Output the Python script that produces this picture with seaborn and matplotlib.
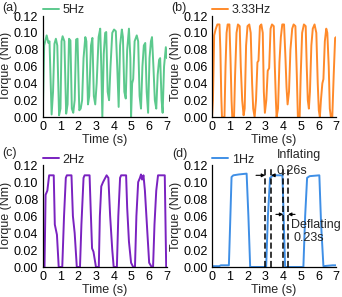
import numpy as np
import pandas as pd
import matplotlib
matplotlib.use("Agg")
import matplotlib.pyplot as plt
import seaborn as sns

# ---------------- data ----------------
t_5hz = [0.00, 0.08, 0.22, 0.32, 0.38, 0.50, 0.58, 0.66, 0.74, 0.82, 0.92, 1.00, 1.06, 1.12, 1.22,
         1.32, 1.40, 1.48, 1.56, 1.64, 1.72, 1.80, 1.88, 1.96, 2.06, 2.14, 2.22, 2.30, 2.40, 2.46,
         2.55, 2.62, 2.72, 2.80, 2.88, 2.96, 3.04, 3.15, 3.24, 3.30, 3.36, 3.44, 3.52, 3.58, 3.66,
         3.74, 3.82, 3.92, 4.02, 4.12, 4.20, 4.28, 4.36, 4.46, 4.52, 4.60, 4.68, 4.76, 4.86, 4.94,
         4.98, 5.04, 5.10, 5.18, 5.30, 5.38, 5.46, 5.54, 5.62, 5.70, 5.78, 5.86, 5.94, 6.02, 6.10,
         6.16, 6.24, 6.32, 6.40, 6.48, 6.56, 6.62, 6.70, 6.76, 6.84, 6.94, 7.00]
v_5hz = [0.002, 0.085, 0.097, 0.088, 0.090, 0.003, 0.030, 0.087, 0.093, 0.085, 0.002, 0.010, 0.090, 0.096, 0.090,
         0.004, 0.015, 0.093, 0.091, 0.010, 0.005, 0.020, 0.092, 0.093, 0.008, 0.010, 0.020, 0.070, 0.095, 0.090,
         0.015, 0.025, 0.085, 0.094, 0.025, 0.015, 0.040, 0.095, 0.105, 0.060, 0.000, 0.075, 0.100, 0.101, 0.030,
         0.020, 0.060, 0.100, 0.104, 0.102, 0.060, 0.012, 0.085, 0.104, 0.095, 0.030, 0.022, 0.080, 0.105, 0.070,
         0.000, 0.040, 0.045, 0.090, 0.097, 0.090, 0.025, 0.010, 0.060, 0.085, 0.088, 0.030, 0.005, 0.070, 0.090,
         0.095, 0.060, 0.020, 0.010, 0.050, 0.068, 0.070, 0.020, 0.005, 0.060, 0.083, 0.070]

t_333hz = [0.00, 0.05, 0.12, 0.20, 0.30, 0.42, 0.47, 0.52, 0.56, 0.70, 0.76, 0.82, 0.88, 0.98, 1.04,
           1.10, 1.14, 1.24, 1.30, 1.38, 1.46, 1.56, 1.62, 1.70, 1.78, 1.84, 1.92, 2.00, 2.10, 2.18,
           2.26, 2.32, 2.40, 2.48, 2.56, 2.62, 2.70, 2.78, 2.86, 2.92, 2.98, 3.06, 3.14, 3.22, 3.30,
           3.38, 3.48, 3.54, 3.60, 3.64, 3.72, 3.80, 3.88, 3.96, 4.06, 4.14, 4.20, 4.26, 4.34, 4.42,
           4.52, 4.60, 4.70, 4.78, 4.84, 4.94, 5.00, 5.08, 5.18, 5.28, 5.34, 5.40, 5.46, 5.52, 5.60,
           5.68, 5.78, 5.88, 5.96, 6.02, 6.08, 6.14, 6.22, 6.28, 6.36, 6.44, 6.50, 6.58, 6.64, 6.70,
           6.78, 6.86, 6.94, 7.00]
v_333hz = [0.000, 0.020, 0.097, 0.104, 0.110, 0.110, 0.080, 0.025, 0.000, 0.000, 0.060, 0.100, 0.110, 0.110, 0.070,
           0.020, 0.000, 0.000, 0.050, 0.100, 0.110, 0.108, 0.060, 0.020, 0.002, 0.010, 0.085, 0.108, 0.110, 0.100,
           0.040, 0.010, 0.000, 0.020, 0.065, 0.067, 0.108, 0.110, 0.100, 0.030, 0.005, 0.020, 0.055, 0.058, 0.105,
           0.110, 0.108, 0.060, 0.020, 0.000, 0.010, 0.065, 0.095, 0.110, 0.110, 0.070, 0.035, 0.015, 0.030, 0.080,
           0.105, 0.110, 0.108, 0.050, 0.000, 0.000, 0.050, 0.100, 0.110, 0.108, 0.060, 0.020, 0.010, 0.030, 0.085,
           0.105, 0.110, 0.100, 0.040, 0.008, 0.000, 0.020, 0.040, 0.045, 0.090, 0.105, 0.100, 0.060, 0.010, 0.000,
           0.000, 0.050, 0.094, 0.095]

t_2hz = [0.00, 0.10, 0.16, 0.26, 0.36, 0.62, 0.68, 0.80, 0.90, 1.10, 1.20, 1.30, 1.36, 1.62, 1.70,
         1.80, 1.92, 2.10, 2.18, 2.30, 2.36, 2.64, 2.70, 2.78, 2.86, 3.00, 3.16, 3.22, 3.30, 3.40,
         3.60, 3.70, 3.80, 3.92, 4.00, 4.18, 4.26, 4.36, 4.42, 4.70, 4.76, 4.86, 4.98, 5.10, 5.20,
         5.28, 5.38, 5.48, 5.54, 5.60, 5.68, 5.76, 5.90, 6.00, 6.14, 6.22, 6.30, 6.40, 6.50, 6.88,
         6.96]
v_2hz = [0.000, 0.000, 0.085, 0.090, 0.108, 0.108, 0.050, 0.038, 0.000, 0.000, 0.060, 0.105, 0.108, 0.108, 0.060,
         0.040, 0.000, 0.000, 0.050, 0.105, 0.108, 0.108, 0.070, 0.022, 0.018, 0.000, 0.000, 0.060, 0.095, 0.100,
         0.108, 0.105, 0.060, 0.020, 0.000, 0.000, 0.060, 0.105, 0.108, 0.108, 0.070, 0.030, 0.005, 0.000, 0.000,
         0.060, 0.100, 0.105, 0.109, 0.103, 0.108, 0.090, 0.040, 0.005, 0.000, 0.000, 0.050, 0.090, 0.108, 0.108,
         0.000]

t_1hz = [0.00, 0.40, 0.50, 0.95, 1.02, 1.10, 1.20, 1.50, 1.95, 2.05, 2.15, 3.05, 3.15, 3.27, 3.45,
         3.97, 4.05, 4.12, 5.15, 5.25, 5.36, 5.50, 6.05, 6.15, 6.28, 6.80, 7.00]
v_1hz = [0.001, 0.001, 0.002, 0.002, 0.050, 0.106, 0.108, 0.109, 0.110, 0.060, 0.000, 0.000, 0.060, 0.105, 0.108,
         0.108, 0.050, 0.000, 0.000, 0.060, 0.105, 0.107, 0.108, 0.050, 0.001, 0.002, 0.002]

labels = ["5Hz", "3.33Hz", "2Hz", "1Hz"]
panel_tags = ["(a)", "(b)", "(c)", "(d)"]
x_ticks = [0, 1, 2, 3, 4, 5, 6, 7]
y_ticks = [0.00, 0.02, 0.04, 0.06, 0.08, 0.10, 0.12]

# annotation values for panel (d)
inflate_lines = [3.00, 3.33]
deflate_lines = [4.02, 4.28]
inflate_text = ["Inflating", "0.26s"]
deflate_text = ["Deflating", "0.23s"]

# ---------------- style ----------------
sns.set_theme(style="white")
plt.rcParams["font.family"] = ["Liberation Sans", "DejaVu Sans"]
FS = 9

colors = ["#5CC98D", "#FF8A2A", "#7A22C0", "#3F8FE6"]
series = [(t_5hz, v_5hz), (t_333hz, v_333hz), (t_2hz, v_2hz), (t_1hz, v_1hz)]

fig = plt.figure(figsize=(3.42, 2.97), dpi=100)
positions = [
    [0.125, 0.606, 0.363, 0.340],
    [0.620, 0.606, 0.363, 0.340],
    [0.125, 0.101, 0.363, 0.343],
    [0.620, 0.101, 0.363, 0.343],
]
tag_pos = [(0.008, 0.973), (0.500, 0.973), (0.008, 0.485), (0.503, 0.482)]

axes = []
for i, pos in enumerate(positions):
    ax = fig.add_axes(pos)
    t, v = series[i]
    df = pd.DataFrame({"Time (s)": t, "Torque (Nm)": v})
    sns.lineplot(data=df, x="Time (s)", y="Torque (Nm)", ax=ax, color=colors[i],
                 lw=1.4, label=labels[i], estimator=None, sort=False)
    ax.set_xlim(0, 7)
    ax.set_ylim(0, 0.12)
    ax.set_xticks(x_ticks)
    ax.set_yticks(y_ticks)
    ax.set_yticklabels([f"{y:.2f}" for y in y_ticks])
    ax.tick_params(axis="both", labelsize=FS, direction="out", length=2, width=0.8, pad=1.2,
                   colors="black")
    for s in ["top", "right"]:
        ax.spines[s].set_visible(False)
    for s in ["left", "bottom"]:
        ax.spines[s].set_color("black")
        ax.spines[s].set_linewidth(0.9)
    ax.set_xlabel("Time (s)", fontsize=FS, labelpad=0.3)
    ax.set_ylabel("Torque (Nm)", fontsize=FS)
    ax.yaxis.set_label_coords(-0.245, 0.5)
    ax.legend(loc="center left", bbox_to_anchor=(-0.01, 1.055), frameon=False, fontsize=FS,
              handlelength=1.3, handletextpad=0.3, borderpad=0.1, borderaxespad=0)
    fig.text(tag_pos[i][0], tag_pos[i][1], panel_tags[i], fontsize=FS, va="center", ha="left")
    axes.append(ax)

# panel (d) annotations
axd = axes[3]
for xv in inflate_lines + deflate_lines:
    axd.plot([xv, xv], [0, 0.116], color="black", lw=1.1, ls=(0, (4, 2)), clip_on=False)

arrow_kw = dict(arrowstyle="-|>", color="black", lw=0.8, mutation_scale=5, shrinkA=0, shrinkB=0)
# inflating arrows
axd.annotate("", xy=(inflate_lines[0], 0.108), xytext=(2.48, 0.108), arrowprops=arrow_kw,
             annotation_clip=False)
axd.annotate("", xy=(inflate_lines[1], 0.108), xytext=(3.55, 0.108), arrowprops=arrow_kw,
             annotation_clip=False)
# deflating arrows
axd.annotate("", xy=(deflate_lines[0], 0.062), xytext=(3.60, 0.062), arrowprops=arrow_kw)
axd.annotate("", xy=(deflate_lines[1], 0.062), xytext=(4.68, 0.062), arrowprops=arrow_kw)

axd.text(3.65, 0.1315, inflate_text[0], fontsize=FS, ha="left", va="center", clip_on=False)
axd.text(3.62, 0.1135, inflate_text[1], fontsize=FS, ha="left", va="center", clip_on=False)
axd.text(4.45, 0.050, deflate_text[0], fontsize=FS, ha="left", va="center")
axd.text(4.60, 0.034, deflate_text[1], fontsize=FS, ha="left", va="center")

fig.savefig("out.png", dpi=100)
